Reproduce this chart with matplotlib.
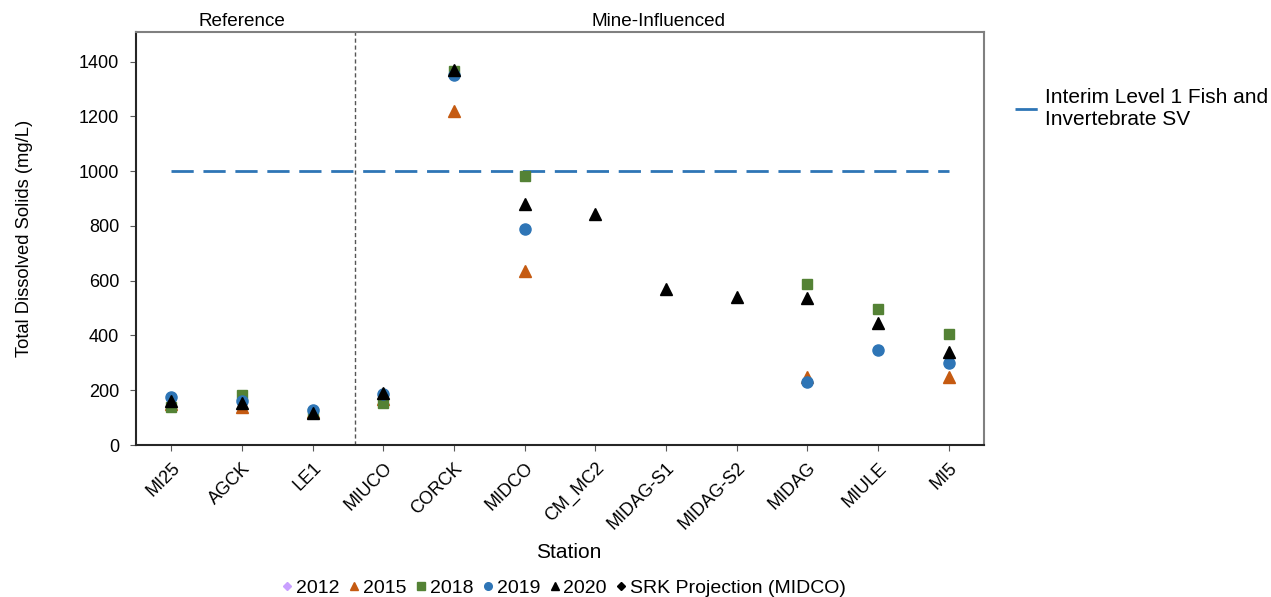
import numpy as np
import matplotlib.pyplot as plt
from matplotlib.lines import Line2D

plt.rcParams["font.family"] = ["Liberation Sans", "DejaVu Sans"]

nan = np.nan

stations = ["MI25", "AGCK", "LE1", "MIUCO", "CORCK", "MIDCO", "CM_MC2",
            "MIDAG-S1", "MIDAG-S2", "MIDAG", "MIULE", "MI5"]

# TDS by year (mg/L), NaN where a station was not sampled
tds_2012 = [nan] * 12
tds_2015 = [150, 137, 120, 168, 1220, 637, nan, nan, nan, 250, nan, 247]
tds_2018 = [138, 183, 118, 153, 1365, 982, nan, nan, nan, 588, 498, 405]
tds_2019 = [177, 160, 127, 187, 1351, 789, nan, nan, nan, 231, 347, 300]
tds_2020 = [160, 152, 118, 190, 1370, 880, 844, 570, 540, 536, 444, 341]
srk_projection = [nan] * 12

sv_level = 1000

x = np.arange(len(stations))

fig = plt.figure(figsize=(12.71, 5.97), dpi=100)
ax = fig.add_axes([0.1070, 0.2546, 0.6672, 0.6926])

# screening value line across all stations
ax.plot([x[0], x[-1]], [sv_level, sv_level], color="#2E75B6", lw=2,
        dashes=(8, 3.5))

ms = 7.5
ax.plot(x, tds_2012, ls="none", marker="D", ms=ms - 1, color="#C9A0FF")
ax.plot(x, tds_2015, ls="none", marker="^", ms=ms + 1, color="#C55A11")
ax.plot(x, tds_2018, ls="none", marker="s", ms=ms, color="#548235")
ax.plot(x, tds_2019, ls="none", marker="o", ms=ms + 0.5, color="#2E75B6")
ax.plot(x, tds_2020, ls="none", marker="^", ms=ms + 1, color="black")
ax.plot(x, srk_projection, ls="none", marker="D", ms=ms - 1, color="black")

# divider between reference and mine-influenced stations
ax.axvline(2.6, color="#555555", lw=1, ls=(0, (3, 2)))

ax.set_xlim(-0.5, 11.5)
ax.set_ylim(0, 1510)
ax.set_yticks(range(0, 1401, 200))
ax.set_xticks(x)
ax.set_xticklabels(stations, rotation=45, ha="right", rotation_mode="anchor",
                   fontsize=13)
ax.tick_params(axis="y", labelsize=13, direction="out", length=4.5, pad=7.5,
               color="#595959")
ax.tick_params(axis="x", direction="out", length=4.5, pad=6, color="#595959")

for side in ["left", "bottom"]:
    ax.spines[side].set_color("#262626")
    ax.spines[side].set_linewidth(1.5)
for side in ["top", "right"]:
    ax.spines[side].set_color("#808080")
    ax.spines[side].set_linewidth(1.5)

ax.set_ylabel("Total Dissolved Solids (mg/L)", fontsize=13.2)
ax.yaxis.set_label_coords(-0.1215, 0.5)
ax.set_xlabel("Station", fontsize=15)
ax.xaxis.set_label_coords(0.510, -0.236)

ax.text(1, 1.003, "Reference", transform=ax.get_xaxis_transform(),
        ha="center", va="bottom", fontsize=13.6)
ax.text(6.9, 1.003, "Mine-Influenced", transform=ax.get_xaxis_transform(),
        ha="center", va="bottom", fontsize=13.6)

# series legend along the bottom
handles = [
    Line2D([], [], ls="none", marker="D", ms=4.5, color="#C9A0FF"),
    Line2D([], [], ls="none", marker="^", ms=6, color="#C55A11"),
    Line2D([], [], ls="none", marker="s", ms=5.5, color="#548235"),
    Line2D([], [], ls="none", marker="o", ms=5.5, color="#2E75B6"),
    Line2D([], [], ls="none", marker="^", ms=6, color="black"),
    Line2D([], [], ls="none", marker="D", ms=4.5, color="black"),
]
labels = ["2012", "2015", "2018", "2019", "2020", "SRK Projection (MIDCO)"]
fig.legend(handles, labels, loc="center", bbox_to_anchor=(0.444, 0.015),
           ncol=6, frameon=False, fontsize=14, handlelength=0.5,
           handletextpad=0.2, columnspacing=0.5, borderaxespad=0, borderpad=0)

# screening value legend on the right
sv_handle = Line2D([], [], color="#2E75B6", lw=2, dashes=(8, 2.5))
leg2 = fig.legend([sv_handle], ["Interim Level 1 Fish and\nInvertebrate SV"],
                  loc="upper left", bbox_to_anchor=(0.7986, 0.852),
                  frameon=False, fontsize=15, handlelength=1.3,
                  handletextpad=0.15, borderaxespad=0, borderpad=0)
for t in leg2.get_texts():
    t.set_linespacing(1.15)

fig.savefig("out.png", dpi=100)
